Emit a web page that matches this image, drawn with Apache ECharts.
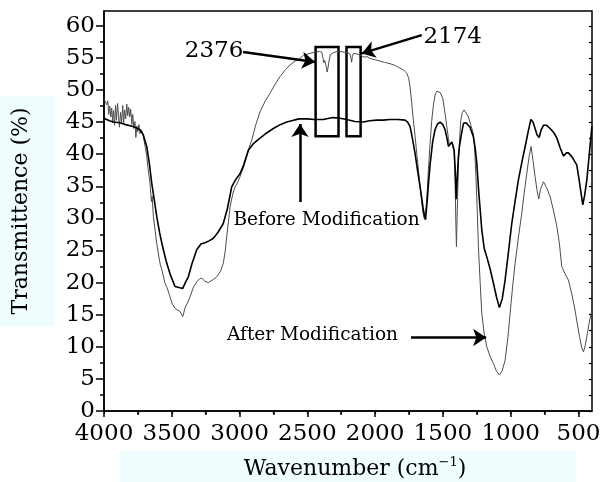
<!DOCTYPE html>
<html>
<head>
<meta charset="utf-8">
<title>FTIR spectra</title>
<script src="https://cdn.jsdelivr.net/npm/echarts@6/dist/echarts.min.js"></script>
<style>
  html, body { margin: 0; padding: 0; background: #fff; }
  #chart { width: 602px; height: 482px; }
</style>
</head>
<body>
<div id="chart"></div>
<script>
// Before modification (black, thicker)
const beforeWn = [4000, 3960, 3930, 3880, 3840, 3800, 3760, 3734, 3710, 3685, 3665, 3648, 3630, 3611, 3590, 3574, 3555, 3537, 3510, 3476,
  3440, 3419, 3400, 3378, 3350, 3316, 3285, 3255, 3225, 3193, 3160, 3120, 3090, 3070, 3058, 3030, 2996, 2970, 2935, 2900,
  2849, 2800, 2751, 2700, 2652, 2600, 2560, 2500, 2450, 2382, 2340, 2308, 2260, 2209, 2150, 2087, 2040, 1988, 1940, 1890,
  1830, 1779, 1760, 1742, 1725, 1705, 1685, 1668, 1655, 1644, 1635, 1628, 1615, 1604, 1594, 1575, 1558, 1540, 1521, 1500,
  1484, 1470, 1459, 1445, 1434, 1425, 1417, 1410, 1402, 1395, 1386, 1378, 1360, 1348, 1329, 1300, 1275, 1262, 1250, 1235,
  1213, 1195, 1176, 1150, 1127, 1105, 1083, 1062, 1041, 1015, 992, 965, 943, 915, 893, 870, 851, 835, 820, 805,
  790, 775, 758, 735, 709, 680, 659, 635, 610, 590, 574, 545, 512, 495, 480, 468, 455, 438, 420, 401];
const beforeT = [45.6, 45.2, 45.0, 44.9, 44.6, 44.4, 44.1, 43.8, 43.0, 41.2, 38.5, 35.5, 33.0, 30.3, 27.8, 26.2, 24.5, 23.0, 21.2, 19.4,
  19.2, 19.1, 20.0, 20.9, 23.0, 25.1, 26.0, 26.2, 26.5, 26.9, 27.8, 29.2, 31.5, 33.6, 34.9, 36.0, 37.0, 38.3, 40.6, 41.6,
  42.5, 43.3, 44.0, 44.6, 45.0, 45.3, 45.5, 45.5, 45.4, 45.4, 45.6, 45.7, 45.6, 45.4, 45.1, 45.0, 45.2, 45.3, 45.3, 45.4,
  45.4, 45.3, 45.0, 44.3, 42.5, 40.1, 37.2, 34.9, 33.0, 31.3, 30.3, 29.8, 33.0, 36.0, 38.5, 42.0, 43.8, 44.7, 45.0, 44.6,
  43.8, 42.5, 41.2, 41.5, 41.9, 41.3, 40.6, 38.0, 33.0, 36.0, 39.5, 41.2, 43.5, 44.8, 44.9, 44.2, 42.7, 41.0, 38.6, 34.0,
  28.2, 25.3, 24.0, 22.0, 19.9, 17.8, 16.1, 17.5, 20.4, 25.0, 29.2, 33.0, 36.0, 39.0, 41.2, 43.6, 45.4, 45.0, 44.0, 43.0,
  42.6, 43.8, 44.5, 44.5, 44.0, 43.3, 42.5, 41.0, 39.7, 40.2, 40.2, 39.5, 38.3, 36.0, 33.8, 32.1, 33.5, 36.0, 40.0, 44.3];

// After modification (grey, thin, noisy at high wavenumber)
const afterWn = [4000, 3990, 3980, 3972, 3965, 3958, 3950, 3943, 3936, 3930, 3922, 3915, 3908, 3900, 3893, 3886, 3878, 3870, 3862, 3855,
  3848, 3840, 3832, 3825, 3818, 3810, 3803, 3795, 3788, 3780, 3772, 3765, 3758, 3750, 3742, 3735, 3725, 3715, 3705, 3695,
  3685, 3675, 3661, 3650, 3645, 3636, 3625, 3611, 3595, 3585, 3574, 3562, 3550, 3535, 3513, 3495, 3476, 3455, 3439, 3419,
  3400, 3380, 3365, 3340, 3316, 3295, 3279, 3255, 3230, 3200, 3168, 3140, 3120, 3105, 3095, 3082, 3070, 3050, 3033, 3010,
  2996, 2970, 2947, 2930, 2910, 2880, 2849, 2810, 2775, 2740, 2701, 2660, 2627, 2590, 2560, 2529, 2480, 2443, 2410, 2394,
  2385, 2378, 2372, 2366, 2360, 2354, 2348, 2340, 2330, 2308, 2280, 2259, 2230, 2200, 2185, 2178, 2173, 2168, 2160, 2130,
  2111, 2080, 2060, 2037, 2000, 1963, 1930, 1890, 1850, 1816, 1790, 1766, 1752, 1742, 1730, 1718, 1705, 1693, 1680, 1668,
  1658, 1648, 1638, 1631, 1622, 1615, 1607, 1595, 1582, 1570, 1558, 1545, 1533, 1520, 1501, 1485, 1471, 1460, 1452, 1443,
  1434, 1426, 1417, 1410, 1404, 1400, 1396, 1390, 1385, 1376, 1368, 1356, 1344, 1330, 1312, 1295, 1275, 1265, 1255, 1246,
  1238, 1225, 1213, 1195, 1176, 1150, 1127, 1105, 1083, 1062, 1041, 1020, 1004, 985, 967, 940, 918, 900, 881, 865,
  849, 835, 820, 805, 793, 780, 758, 735, 709, 685, 659, 640, 623, 600, 574, 550, 525, 508, 492, 475,
  463, 450, 434, 420, 401];
const afterT = [48.6, 48.2, 47.7, 48.3, 46.2, 47.5, 45.8, 47.2, 44.9, 46.8, 44.5, 47.6, 45.3, 47.9, 46.0, 44.2, 46.5, 45.0, 47.6, 44.8,
  46.9, 45.5, 47.8, 46.0, 47.3, 45.8, 47.0, 44.6, 46.2, 44.0, 45.1, 42.6, 44.4, 43.5, 44.6, 43.2, 43.8, 43.3, 42.2, 41.0,
  39.8, 37.8, 35.5, 32.6, 33.5, 30.3, 28.5, 26.1, 24.0, 22.8, 22.1, 21.0, 19.9, 19.2, 17.8, 16.6, 16.0, 15.7, 15.5, 14.7,
  16.2, 17.0, 17.8, 19.3, 20.1, 20.6, 20.7, 20.2, 20.0, 20.4, 20.9, 21.8, 23.0, 25.0, 27.1, 29.5, 31.8, 33.8, 34.9, 35.8,
  36.5, 38.0, 39.6, 41.0, 42.2, 44.6, 46.6, 48.3, 49.5, 50.8, 52.1, 53.2, 53.9, 54.5, 54.8, 55.4, 55.7, 55.9, 56.0, 55.9,
  55.0, 54.2, 54.6, 54.8, 53.6, 52.8, 53.4, 54.5, 55.5, 55.8, 56.0, 56.0, 55.9, 55.8, 55.6, 54.9, 54.3, 55.2, 55.7, 55.6,
  55.4, 55.1, 55.2, 54.9, 54.7, 54.5, 54.3, 54.1, 53.8, 53.4, 53.1, 52.6, 51.8, 50.5, 48.0, 45.3, 42.8, 40.1, 37.5, 34.9,
  32.8, 31.0, 30.0, 29.8, 32.0, 34.5, 37.5, 41.5, 45.3, 47.6, 49.2, 49.8, 49.9, 49.6, 48.7, 46.5, 44.3, 42.6, 41.4, 41.6,
  41.8, 41.2, 40.4, 36.0, 29.0, 25.6, 29.5, 34.5, 38.6, 42.5, 45.3, 46.5, 46.9, 46.5, 45.8, 44.6, 43.2, 40.5, 36.0, 31.0,
  25.6, 20.0, 15.2, 12.0, 10.0, 8.4, 7.4, 6.2, 5.6, 6.3, 7.9, 11.5, 15.2, 19.5, 23.0, 27.5, 30.8, 34.0, 37.0, 39.5,
  41.2, 39.0, 36.5, 34.3, 33.0, 34.5, 35.7, 34.8, 33.4, 31.3, 28.7, 26.0, 22.5, 21.4, 20.4, 18.3, 15.7, 13.5, 11.6, 9.8,
  9.2, 10.2, 12.1, 13.8, 15.7];

const xMajorTicks = [4000, 3500, 3000, 2500, 2000, 1500, 1000, 500];
const xMinorTicks = [3750, 3250, 2750, 2250, 1750, 1250, 750];
const xAllTicks = [4000, 3750, 3500, 3250, 3000, 2750, 2500, 2250, 2000, 1750, 1500, 1250, 1000, 750, 500];
const yMajorTicks = [0, 5, 10, 15, 20, 25, 30, 35, 40, 45, 50, 55, 60];
const yMinorTicks = [2.5, 7.5, 12.5, 17.5, 22.5, 27.5, 32.5, 37.5, 42.5, 47.5, 52.5, 57.5];
const yAllTicks = [0, 2.5, 5, 7.5, 10, 12.5, 15, 17.5, 20, 22.5, 25, 27.5, 30, 32.5, 35, 37.5, 40, 42.5, 45, 47.5, 50, 52.5, 55, 57.5, 60];

// annotation boxes around the 2376 / 2174 bands: [wnFrom, wnTo, tLow, tHigh]
const bandBoxes = [[2439, 2270, 42.8, 56.7], [2211, 2107, 42.8, 56.7]];
// arrows: [fromWn, fromT, toWn, toT]
const arrows = [[2974, 55.9, 2443, 54.35], [1656, 58.55, 2098, 55.7], [2554, 32.55, 2554, 44.7], [1735, 11.45, 1181, 11.45]];
// notes: [text, wn, t, fontSize]
const notes = [['2376', 3188, 56.0, 23], ['2174', 1428, 58.2, 23], ['Before Modification', 2358, 29.75, 18.5], ['After Modification', 2462, 11.75, 18.5]];

const FONT = 'DejaVu Serif';
const chart = echarts.init(document.getElementById('chart'));

function pairs(xs, ys) {
  return xs.map((x, i) => [x, ys[i]]);
}

function xAxisBase(extra) {
  return Object.assign({
    type: 'value', min: 400, max: 4000, inverse: true,
    splitLine: { show: false },
    axisLine: { show: false },
    axisLabel: { show: false },
    axisTick: { show: false }
  }, extra);
}

function yAxisBase(extra) {
  return Object.assign({
    type: 'value', min: 0, max: 62.3,
    splitLine: { show: false },
    axisLine: { show: false },
    axisLabel: { show: false },
    axisTick: { show: false }
  }, extra);
}

const option = {
  animation: false,
  backgroundColor: '#fff',
  grid: {
    left: 104, right: 10, top: 11, bottom: 71,
    containLabel: false, outerBoundsMode: 'none',
    show: true, borderColor: '#000', borderWidth: 1.5
  },
  xAxis: [
    xAxisBase({
      position: 'bottom',
      axisLine: { show: true, onZero: false, lineStyle: { color: '#000', width: 1.5 } },
      axisTick: { show: true, customValues: xMajorTicks, length: 6, lineStyle: { color: '#000', width: 1.5 } },
      axisLabel: {
        show: true, customValues: xMajorTicks, margin: 12, hideOverlap: false,
        showMinLabel: true, showMaxLabel: true,
        formatter: v => String(v),
        color: '#000', fontFamily: FONT, fontSize: 23
      },
      name: '{a|Wavenumber (cm}{s|−1}{a|)}',
      nameLocation: 'middle',
      nameGap: 39,
      nameTextStyle: {
        backgroundColor: '#effdfe',
        padding: [5, 110, 8, 124],
        rich: {
          a: { fontFamily: FONT, fontSize: 22, color: '#000', lineHeight: 26 },
          s: { fontFamily: FONT, fontSize: 13, color: '#000', lineHeight: 14, verticalAlign: 'top' }
        }
      }
    }),
    xAxisBase({
      position: 'bottom',
      axisTick: { show: true, customValues: xMinorTicks, length: 4, lineStyle: { color: '#000', width: 1.5 } }
    }),
    xAxisBase({
      position: 'top',
      axisTick: { show: true, inside: true, customValues: xAllTicks, length: 3, lineStyle: { color: '#000', width: 1.2 } }
    })
  ],
  yAxis: [
    yAxisBase({
      position: 'left',
      axisLine: { show: true, onZero: false, lineStyle: { color: '#000', width: 1.5 } },
      axisTick: { show: true, customValues: yMajorTicks, length: 8, lineStyle: { color: '#000', width: 1.5 } },
      axisLabel: {
        show: true, customValues: yMajorTicks, margin: 9, hideOverlap: false,
        formatter: v => String(v),
        color: '#000', fontFamily: FONT, fontSize: 23
      },
      name: 'Transmittence (%)',
      nameLocation: 'middle',
      nameGap: 49,
      nameTextStyle: {
        fontFamily: FONT, fontSize: 22, color: '#000', lineHeight: 26,
        backgroundColor: '#effdfe',
        padding: [8, 12, 21, 12]
      }
    }),
    yAxisBase({
      position: 'left',
      axisTick: { show: true, customValues: yMinorTicks, length: 4, lineStyle: { color: '#000', width: 1.5 } }
    }),
    yAxisBase({
      position: 'right',
      axisTick: { show: true, inside: true, customValues: yAllTicks, length: 3, lineStyle: { color: '#000', width: 1.2 } }
    })
  ],
  series: [
    {
      name: 'After Modification',
      type: 'line',
      data: pairs(afterWn, afterT),
      showSymbol: false,
      silent: true,
      lineStyle: { color: '#4d4d4d', width: 1 }
    },
    {
      name: 'Before Modification',
      type: 'line',
      data: pairs(beforeWn, beforeT),
      showSymbol: false,
      silent: true,
      lineStyle: { color: '#000', width: 1.6 },
      markArea: {
        silent: true,
        itemStyle: { color: 'rgba(0,0,0,0)', borderColor: '#000', borderWidth: 2.5 },
        label: { show: false },
        data: bandBoxes.map(b => [{ coord: [b[0], b[3]] }, { coord: [b[1], b[2]] }])
      },
      markLine: {
        silent: true,
        symbol: ['none', 'arrow'],
        symbolSize: 13,
        label: { show: false },
        lineStyle: { color: '#000', width: 2.5, type: 'solid' },
        itemStyle: { color: '#000' },
        data: arrows.map(a => [{ coord: [a[0], a[1]] }, { coord: [a[2], a[3]] }])
      },
      markPoint: {
        silent: true,
        symbol: 'rect',
        symbolSize: 1,
        itemStyle: { color: 'rgba(0,0,0,0)' },
        data: notes.map(n => ({
          coord: [n[1], n[2]],
          label: { show: true, position: 'inside', formatter: n[0], color: '#000', fontFamily: FONT, fontSize: n[3] }
        }))
      }
    }
  ]
};

chart.setOption(option);
</script>
</body>
</html>
